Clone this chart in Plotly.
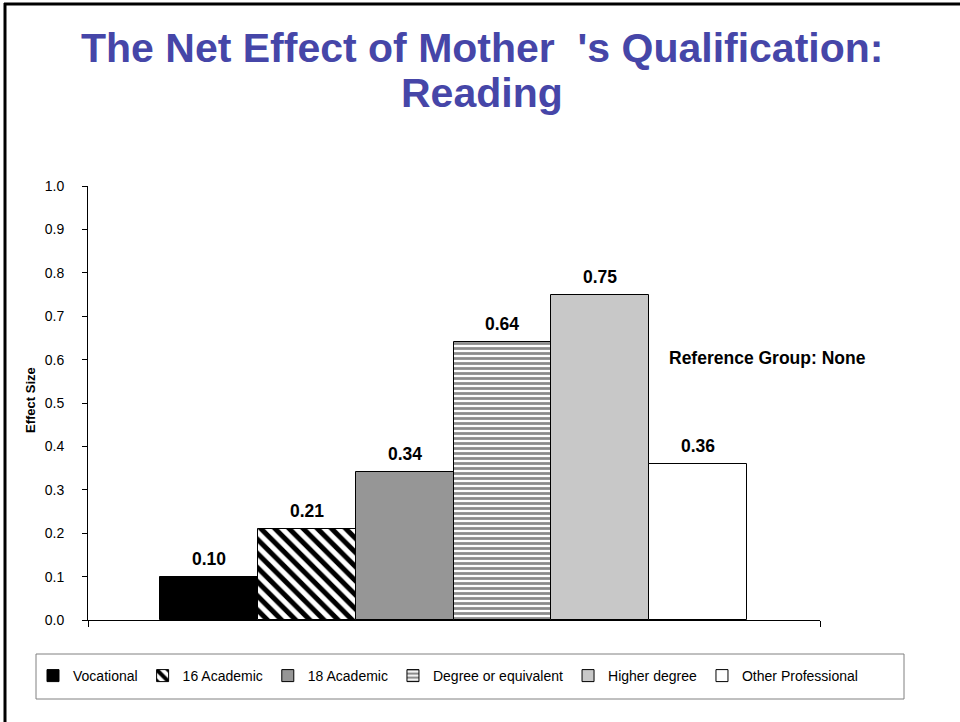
import plotly.graph_objects as go

categories = ["Vocational", "16 Academic", "18 Academic", "Degree or equivalent",
              "Higher degree", "Other Professional"]
values = [0.10, 0.21, 0.34, 0.64, 0.75, 0.36]
y_ticks = [0.0, 0.1, 0.2, 0.3, 0.4, 0.5, 0.6, 0.7, 0.8, 0.9, 1.0]
title_lines = ["The Net Effect of Mother  's Qualification:", "Reading"]
note_text = "Reference Group: None"
y_title = "Effect Size"

fills = ["#000000", "#ffffff", "#969696", "#ffffff", "#c8c8c8", "#ffffff"]
patterns = [
    dict(shape=""),
    dict(shape="\\", fgcolor="#000000", bgcolor="#ffffff", size=10, solidity=0.5, fillmode="replace"),
    dict(shape=""),
    dict(shape="-", fgcolor="#8c8c8c", bgcolor="#ffffff", size=5, solidity=0.55, fillmode="replace"),
    dict(shape=""),
    dict(shape=""),
]

FONT = "Liberation Sans, Arial, sans-serif"
W, H = 960, 722
L, R, T, B = 88, 820, 186, 620  # plot area pixels
pw, ph = R - L, B - T


def px_x(p):
    return (p - L) / pw


def px_y(p):
    return (B - p) / ph


fig = go.Figure()
for i, (c, v) in enumerate(zip(categories, values)):
    fig.add_trace(go.Bar(
        x=[i], y=[v], width=[1.0], name=c,
        marker=dict(color=fills[i], line=dict(color="#000000", width=1), pattern=patterns[i]),
        hoverinfo="skip",
    ))
    fig.add_annotation(x=i, y=v, text=f"<b>{v:.2f}</b>", showarrow=False,
                       xanchor="center", yanchor="middle", yshift=18,
                       font=dict(family=FONT, size=17.5, color="#000000"))

fig.add_annotation(xref="paper", yref="paper", x=px_x(767), y=px_y(358),
                   text=f"<b>{note_text}</b>", showarrow=False,
                   xanchor="center", yanchor="middle",
                   font=dict(family=FONT, size=17.5, color="#000000"))
fig.add_annotation(xref="paper", yref="paper", x=px_x(30), y=px_y(400),
                   text=f"<b>{y_title}</b>", showarrow=False, textangle=-90,
                   xanchor="center", yanchor="middle",
                   font=dict(family=FONT, size=13, color="#000000"))

# title lines
for txt, cy in zip(title_lines, [48, 93]):
    fig.add_annotation(xref="paper", yref="paper", x=px_x(482), y=px_y(cy),
                       text=f"<b>{txt}</b>", showarrow=False,
                       xanchor="center", yanchor="middle",
                       font=dict(family=FONT, size=41, color="#4646a8"))

# slide frame
fig.add_shape(type="line", xref="paper", yref="paper", x0=px_x(4), x1=px_x(962),
              y0=px_y(4), y1=px_y(4), line=dict(color="#000000", width=3))
fig.add_shape(type="line", xref="paper", yref="paper", x0=px_x(5), x1=px_x(5),
              y0=px_y(3), y1=px_y(724), line=dict(color="#000000", width=3))
# legend frame
fig.add_shape(type="rect", xref="paper", yref="paper", x0=px_x(36), x1=px_x(904),
              y0=px_y(654), y1=px_y(699), line=dict(color="#808080", width=1),
              fillcolor="rgba(0,0,0,0)")

fig.update_layout(
    width=W, height=H,
    margin=dict(l=L, r=W - R, t=T, b=H - B, pad=0, autoexpand=False),
    paper_bgcolor="#ffffff", plot_bgcolor="#ffffff",
    barmode="overlay", bargap=0,
    showlegend=True,
    legend=dict(orientation="h", x=px_x(863), xanchor="right", y=px_y(660), yanchor="top",
                borderwidth=0, bgcolor="rgba(0,0,0,0)",
                font=dict(family=FONT, size=14, color="#000000"),
                traceorder="normal"),
    xaxis=dict(range=[-1.235, 6.245], showgrid=False, zeroline=False, showline=True,
               linecolor="#000000", linewidth=1, tickvals=[-1.235, 6.245], ticks="outside",
               ticklen=6, tickcolor="#000000", showticklabels=False, fixedrange=True),
    yaxis=dict(range=[0, 1], showgrid=False, zeroline=False, showline=True,
               linecolor="#000000", linewidth=1, tickvals=y_ticks, tickformat=".1f",
               ticks="outside", ticklen=5, tickcolor="#000000", ticklabelstandoff=15,
               tickfont=dict(family=FONT, size=14, color="#000000")),
)

fig.write_html("out.html", config={"displayModeBar": False},
               post_script="document.body.style.margin='0';")
